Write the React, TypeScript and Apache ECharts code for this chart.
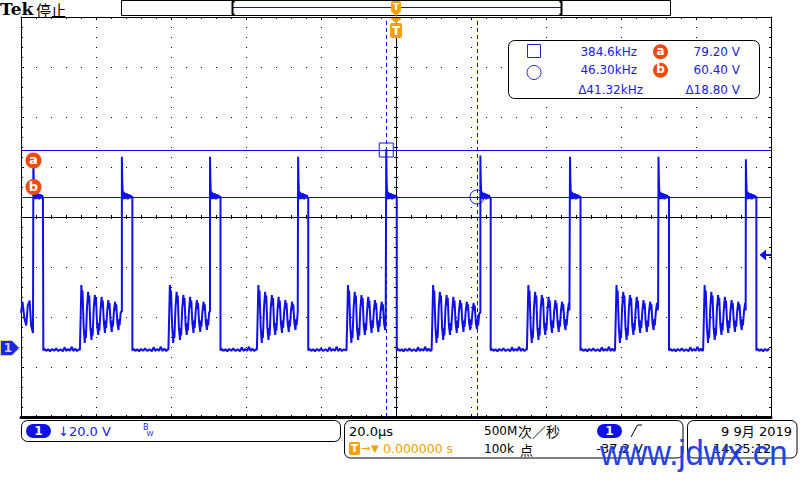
import React, { useEffect, useRef } from "react";
import * as echarts from "echarts";

// ---- axes (time in µs, 20 µs/div, trigger at 0; CH1 volts, 20 V/div) ----
const timeMin = -100;
const timeMax = 100;
const timeStep = 20;
const voltMin = -27.6;
const voltMax = 132.4;
const divCount = 8;

// ---- edges (µs) ----
const riseTimes = [-96.7, -73.1, -49.6, -26.1, -2.6, 22.5, 46.4, 70.0, 93.3];
const fallTimes = [-94.05, -70.3, -46.8, -23.4, 0.2, 25.25, 49.2, 72.8, 96.1];
const ringStarts = [-84.3, -60.7, -37.1, -13.2, 9.5, 34.9, 58.4, 81.9];
const spikePeaks = [75.0, 76.5, 76.5, 76.5, 79.5, 77.0, 76.5, 76.5, 75.5];
const highLevel = 60.2;

// trace before the first pulse [t, V]
const leadIn = [
  [-100, 14], [-99.6, 18.5], [-99.1, 12], [-98.6, 9], [-98.2, 17],
  [-97.7, 19], [-97.3, 9], [-96.8, 6],
];
// plateau after the turn-on spike, relative to rise [dt, V]
const highShape = [
  [0.1, 67], [0.2, 63], [0.35, 59.5], [0.5, 62.5], [0.7, 59.5], [0.9, 62],
  [1.1, 59.8], [1.3, 61.8], [1.55, 59.5], [1.8, 61.5], [2.05, 59.8],
  [2.3, 61.2], [2.55, 60], [2.75, 60.8],
];
// low level after turn-off, relative to fall [dt, V]
const lowShape = [
  [0, -1.0], [0.4, -0.3], [0.8, -1.2], [1.3, -0.5], [1.8, -1.3], [2.3, -0.4],
  [2.9, -1.1], [3.4, -0.2], [4.0, -1.2], [4.6, -0.5], [5.2, -1.3], [5.7, 0.3],
  [6.1, -1.2], [6.6, -0.4], [7.1, -1.1], [7.6, 0.5], [8.0, -1.2], [8.5, -0.3],
  [9.0, -1.2], [9.5, -0.5], [10.0, -1.0], [10.5, -0.4],
];
// ringing, relative to ring start [dt, V]
const ringShape = [
  [0, -0.8], [0.2, 12], [0.4, 25.2], [0.55, 20], [0.7, 23], [1.0, 9], [1.3, 2], [1.45, 7], [1.6, 4], [1.9, 16],
  [2.2, 22.5], [2.35, 18], [2.5, 21], [2.8, 8], [3.1, 3.2], [3.25, 8], [3.4, 5], [3.7, 16],
  [4.0, 21.2], [4.15, 17], [4.3, 20], [4.6, 9], [4.9, 5.2], [5.05, 10], [5.2, 7], [5.5, 15],
  [5.8, 20.5], [5.95, 16], [6.1, 19], [6.4, 10], [6.7, 6], [6.85, 11], [7.0, 8], [7.3, 15],
  [7.6, 19.2], [7.75, 15.5], [7.9, 18], [8.2, 10], [8.5, 6.4], [8.65, 11], [8.8, 8.5], [9.1, 15],
  [9.4, 18.5], [9.55, 15], [9.7, 17.5], [10.0, 10], [10.3, 7.2], [10.45, 11.5], [10.6, 9], [10.9, 14.5],
  [11.2, 18], [11.35, 15], [11.5, 17], [11.8, 10], [12.1, 7.5], [12.25, 11.5], [12.4, 9], [12.7, 14],
  [13.0, 17.5], [13.15, 14.5], [13.3, 16.5], [13.6, 10], [13.9, 8],
];

// ---- cursors ----
const cursorTimes = [-2.6, 21.6];
const cursorVolts = [79.2, 60.4];

// ---- readouts ----
const chScale = "20.0 V";
const timeBase = "20.0µs";
const trigPos = "0.000000 s";
const sampleRate = "500M";
const sampleUnit = "次／秒";
const recordLen = "100k";
const recordUnit = "点";
const trigLevel = "-37.2 V";
const dateText = "9 9月 2019";
const timeText = "14:25:12";

const blue = "#1010e8";
const txtBlue = "#2020e0";
const orange = "#f5a000";
const red = "#f04a0c";
const FONT = '"DejaVu Sans", "Noto Sans CJK SC"';

function buildTrace() {
  const pts: number[][] = leadIn.map((p) => [p[0], p[1]]);
  for (let i = 0; i < riseTimes.length; i++) {
    const r = riseTimes[i];
    const f = fallTimes[i];
    const prev = pts[pts.length - 1];
    pts.push([r, prev[1]]);
    pts.push([r, spikePeaks[i]]);
    for (const [dt, v] of highShape) if (r + dt < f) pts.push([r + dt, v]);
    pts.push([f, highLevel]);
    const end = i < ringStarts.length ? ringStarts[i] : timeMax;
    for (const [dt, v] of lowShape) if (f + dt < end) pts.push([f + dt, v]);
    if (i < ringStarts.length) {
      const rs = ringStarts[i];
      const next = riseTimes[i + 1];
      for (const [dt, v] of ringShape) if (rs + dt < next) pts.push([rs + dt, v]);
    }
  }
  return pts;
}

function fmtFreq(khz: number) {
  return khz >= 100 ? khz.toFixed(1) : khz.toFixed(2);
}

function txt(x: number, y: number, text: string, fill: string, font: string, align = "left", extra: any = {}) {
  return {
    type: "text",
    x,
    y,
    z: 100,
    style: { text, fill, font, align, textAlign: align, verticalAlign: "middle", textVerticalAlign: "middle" },
    ...extra,
  };
}

function buildOption() {
  const f1 = 1000 / Math.abs(cursorTimes[0]);
  const f2 = 1000 / Math.abs(cursorTimes[1]);
  const df = 1000 / Math.abs(cursorTimes[1] - cursorTimes[0]);
  const dv = Math.abs(cursorVolts[0] - cursorVolts[1]);
  const f12 = `12px ${FONT}`;

  const tickStyle = { color: "#000", width: 1 };
  const xBase = (extra: any) => ({
    type: "value",
    min: timeMin,
    max: timeMax,
    interval: timeStep,
    gridIndex: 0,
    axisLabel: { show: false },
    splitLine: { show: false },
    axisLine: { show: true, onZero: false, lineStyle: { color: "#000", width: 1 } },
    axisTick: { show: true, inside: true, length: 3, lineStyle: tickStyle },
    minorTick: { show: true, splitNumber: 5, length: 2, lineStyle: tickStyle },
    ...extra,
  });
  const yBase = (extra: any) => ({
    type: "value",
    min: 0,
    max: divCount,
    interval: 1,
    gridIndex: 0,
    axisLabel: { show: false },
    splitLine: { show: false },
    axisLine: { show: true, onZero: false, lineStyle: { color: "#000", width: 1 } },
    axisTick: { show: true, inside: true, length: 3, lineStyle: tickStyle },
    minorTick: { show: true, splitNumber: 5, length: 2, lineStyle: tickStyle },
    ...extra,
  });

  const graphics: any[] = [
    // header
    txt(0, 9, "Tek", "#000", 'bold 17px "DejaVu Serif"'),
    txt(36, 9.5, "停止", "#000", '15px "Noto Sans CJK SC"'),
    { type: "rect", z: 100, shape: { x: 121.5, y: 0.5, width: 549, height: 15 }, style: { fill: "#fff", stroke: "#000", lineWidth: 1 } },
    { type: "line", z: 101, shape: { x1: 233, y1: 7.5, x2: 561, y2: 7.5 }, style: { stroke: blue, lineWidth: 1 } },
    { type: "polyline", z: 101, shape: { points: [[234.5, 1], [232.5, 2], [232.5, 14], [234.5, 15]] }, style: { stroke: "#000", lineWidth: 2, fill: null } },
    { type: "polyline", z: 101, shape: { points: [[559.5, 1], [561.5, 2], [561.5, 14], [559.5, 15]] }, style: { stroke: "#000", lineWidth: 2, fill: null } },
    // trigger position markers
    { type: "rect", z: 102, shape: { x: 391, y: 1, width: 10, height: 11, r: 2 }, style: { fill: orange } },
    { type: "polygon", z: 102, shape: { points: [[391, 11], [401, 11], [396, 16]] }, style: { fill: orange } },
    txt(396, 6.5, "T", "#fff", 'bold 9px "DejaVu Sans"', "center", { z: 103 }),
    { type: "polygon", z: 102, shape: { points: [[390, 18], [402, 18], [396, 23]] }, style: { fill: orange } },
    { type: "rect", z: 102, shape: { x: 390, y: 23, width: 12, height: 15, r: 2 }, style: { fill: orange } },
    txt(396, 30.5, "T", "#fff", 'bold 12px "DejaVu Sans"', "center", { z: 103 }),
    // cursor labels a / b
    { type: "circle", z: 100, shape: { cx: 33.5, cy: 160.5, r: 8 }, style: { fill: red } },
    txt(33.5, 159.5, "a", "#fff", 'bold 13px "DejaVu Sans"', "center", { z: 101 }),
    { type: "circle", z: 100, shape: { cx: 33.5, cy: 187, r: 8 }, style: { fill: red } },
    txt(33.5, 186, "b", "#fff", 'bold 13px "DejaVu Sans"', "center", { z: 101 }),
    // channel 1 ground marker
    { type: "polygon", z: 100, shape: { points: [[0.5, 340.5], [12, 340.5], [19.5, 348], [12, 355.5], [0.5, 355.5]] }, style: { fill: "#1a28e0", stroke: "#e0d080", lineWidth: 1 } },
    txt(8, 348, "1", "#d0d0d0", 'bold 12px "DejaVu Sans"', "center", { z: 101 }),
    // trigger level marker
    { type: "polygon", z: 100, shape: { points: [[759.5, 255], [766, 249.5], [766, 260.5]] }, style: { fill: blue } },
    { type: "line", z: 100, shape: { x1: 765, y1: 255, x2: 771, y2: 255 }, style: { stroke: blue, lineWidth: 2 } },
    // measurement box
    { type: "rect", z: 100, shape: { x: 508.5, y: 40.5, width: 251, height: 58, r: 6 }, style: { fill: "#fff", stroke: "#000", lineWidth: 1 } },
    { type: "rect", z: 101, shape: { x: 527.5, y: 44.5, width: 13, height: 13 }, style: { fill: null, stroke: txtBlue, lineWidth: 1 } },
    { type: "circle", z: 101, shape: { cx: 534, cy: 72.5, r: 7 }, style: { fill: null, stroke: txtBlue, lineWidth: 1 } },
    txt(637, 51.7, `${fmtFreq(f1)}kHz`, txtBlue, f12, "right", { z: 101 }),
    txt(637, 70, `${fmtFreq(f2)}kHz`, txtBlue, f12, "right", { z: 101 }),
    txt(643, 89.5, `Δ${fmtFreq(df)}kHz`, txtBlue, f12, "right", { z: 101 }),
    { type: "circle", z: 101, shape: { cx: 660.5, cy: 51.7, r: 7.5 }, style: { fill: red } },
    txt(660.5, 50.7, "a", "#fff", 'bold 12px "DejaVu Sans"', "center", { z: 102 }),
    { type: "circle", z: 101, shape: { cx: 660.5, cy: 70.3, r: 7.5 }, style: { fill: red } },
    txt(660.5, 69.3, "b", "#fff", 'bold 12px "DejaVu Sans"', "center", { z: 102 }),
    txt(740, 51.7, `${cursorVolts[0].toFixed(2)} V`, txtBlue, f12, "right", { z: 101 }),
    txt(740, 70, `${cursorVolts[1].toFixed(2)} V`, txtBlue, f12, "right", { z: 101 }),
    txt(740, 89.5, `Δ${dv.toFixed(2)} V`, txtBlue, f12, "right", { z: 101 }),
    // bottom box 1
    { type: "rect", z: 100, shape: { x: 21.5, y: 420.5, width: 319, height: 21, r: 6 }, style: { fill: "#fff", stroke: "#000", lineWidth: 1 } },
    { type: "rect", z: 101, shape: { x: 26, y: 424, width: 25, height: 14, r: 7 }, style: { fill: blue } },
    txt(38.5, 431, "1", "#fff", 'bold 12px "DejaVu Sans"', "center", { z: 102 }),
    txt(58, 431, `↓${chScale}`, txtBlue, `13px ${FONT}`, "left", { z: 101 }),
    txt(143, 427, "B", txtBlue, '8px "DejaVu Sans"', "left", { z: 101 }),
    txt(146.5, 433.5, "W", txtBlue, '7px "DejaVu Sans"', "left", { z: 101 }),
    // bottom box 2
    { type: "rect", z: 100, shape: { x: 344.5, y: 420.5, width: 338.5, height: 37.5, r: 6 }, style: { fill: "#fff", stroke: "#000", lineWidth: 1 } },
    txt(349, 431, timeBase, "#000", `13px ${FONT}`, "left", { z: 101 }),
    { type: "rect", z: 101, shape: { x: 349, y: 442, width: 11, height: 13, r: 2 }, style: { fill: orange } },
    txt(354.5, 448.5, "T", "#fff", 'bold 11px "DejaVu Sans"', "center", { z: 102 }),
    txt(361, 448.5, "→", orange, `11px ${FONT}`, "left", { z: 101 }),
    txt(371, 448.5, "▼", orange, `10px ${FONT}`, "left", { z: 101 }),
    txt(383, 448.5, trigPos, orange, `12.5px ${FONT}`, "left", { z: 101 }),
    txt(484, 431, sampleRate, "#000", `12px ${FONT}`, "left", { z: 101 }),
    txt(518, 430.5, sampleUnit, "#000", '14px "Noto Sans CJK SC"', "left", { z: 101 }),
    txt(484, 448.5, recordLen, "#000", `12px ${FONT}`, "left", { z: 101 }),
    txt(520, 449.5, recordUnit, "#000", '13px "Noto Sans CJK SC"', "left", { z: 101 }),
    { type: "rect", z: 101, shape: { x: 597, y: 424, width: 25, height: 14, r: 7 }, style: { fill: blue } },
    txt(609.5, 431, "1", "#fff", 'bold 12px "DejaVu Sans"', "center", { z: 102 }),
    { type: "polyline", z: 101, shape: { points: [[631, 437], [637.5, 425], [642, 425]] }, style: { stroke: "#000", lineWidth: 1, fill: null } },
    txt(643, 448.5, trigLevel, "#000", `13px ${FONT}`, "right", { z: 101 }),
    // bottom box 3
    { type: "rect", z: 100, shape: { x: 687.5, y: 420.5, width: 109.5, height: 37.5, r: 6 }, style: { fill: "#fff", stroke: "#000", lineWidth: 1 } },
    txt(792, 431, dateText, "#000", `13px ${FONT}`, "right", { z: 101 }),
    txt(713, 448.5, timeText, "#000", `13px ${FONT}`, "left", { z: 101 }),
    // watermark
    txt(600, 452.5, "www.jdwx.cn", "#2340e6", '36px "Liberation Sans"', "left", { z: 110, scaleX: 0.91 }),
  ];

  return {
    animation: false,
    backgroundColor: "#fff",
    grid: { left: 21, top: 17, width: 750, height: 400, containLabel: false },
    xAxis: [
      xBase({
        position: "bottom",
        axisLine: { show: true, onZero: false, lineStyle: { color: "#000", width: 3 } },
        splitLine: { show: true, lineStyle: { color: "#000", width: 1, type: [1, 9] } },
      }),
      xBase({ position: "top" }),
      xBase({ position: "bottom", offset: -200, axisTick: { show: true, inside: false, length: 2, lineStyle: tickStyle } }),
      xBase({ position: "bottom", offset: -200, axisLine: { show: false, onZero: false }, axisTick: { show: true, inside: true, length: 2, lineStyle: tickStyle } }),
    ],
    yAxis: [
      { type: "value", min: voltMin, max: voltMax, show: false, gridIndex: 0, position: "left", axisLine: { onZero: false } },
      yBase({ position: "left", splitLine: { show: true, lineStyle: { color: "#000", width: 1, type: [1, 14] } } }),
      yBase({ position: "right" }),
      yBase({ position: "left", offset: -375, axisTick: { show: true, inside: false, length: 2, lineStyle: tickStyle } }),
      yBase({ position: "left", offset: -375, axisLine: { show: false, onZero: false }, axisTick: { show: true, inside: true, length: 2, lineStyle: tickStyle } }),
    ],
    graphic: { elements: graphics },
    series: [
      {
        type: "line",
        xAxisIndex: 0,
        yAxisIndex: 0,
        data: buildTrace(),
        showSymbol: false,
        symbol: "none",
        clip: true,
        z: 5,
        lineStyle: { color: blue, width: 2 },
        silent: true,
        markLine: {
          silent: true,
          symbol: "none",
          label: { show: false },
          lineStyle: { color: blue, width: 1, type: "solid" },
          data: [
            ...cursorVolts.map((v) => ({ yAxis: v, lineStyle: { color: blue, width: 1, type: "solid" } })),
            ...cursorTimes.map((t) => ({ xAxis: t, lineStyle: { color: blue, width: 1, type: [4, 3] } })),
          ],
        },
        markPoint: {
          silent: true,
          label: { show: false },
          itemStyle: { color: "rgba(0,0,0,0)", borderColor: blue, borderWidth: 1 },
          data: [
            { coord: [cursorTimes[0], cursorVolts[0]], symbol: "rect", symbolSize: 14 },
            { coord: [cursorTimes[1], cursorVolts[1]], symbol: "circle", symbolSize: 14 },
          ],
        },
      },
    ],
  };
}

export default function App() {
  const ref = useRef<HTMLDivElement>(null);
  useEffect(() => {
    if (!ref.current) return;
    const chart = echarts.init(ref.current, null, { renderer: "svg" });
    chart.setOption(buildOption() as any);
    return () => chart.dispose();
  }, []);
  return (
    <div
      ref={ref}
      style={{ position: "fixed", left: 0, top: 0, width: 800, height: 480, background: "#fff" }}
    />
  );
}
